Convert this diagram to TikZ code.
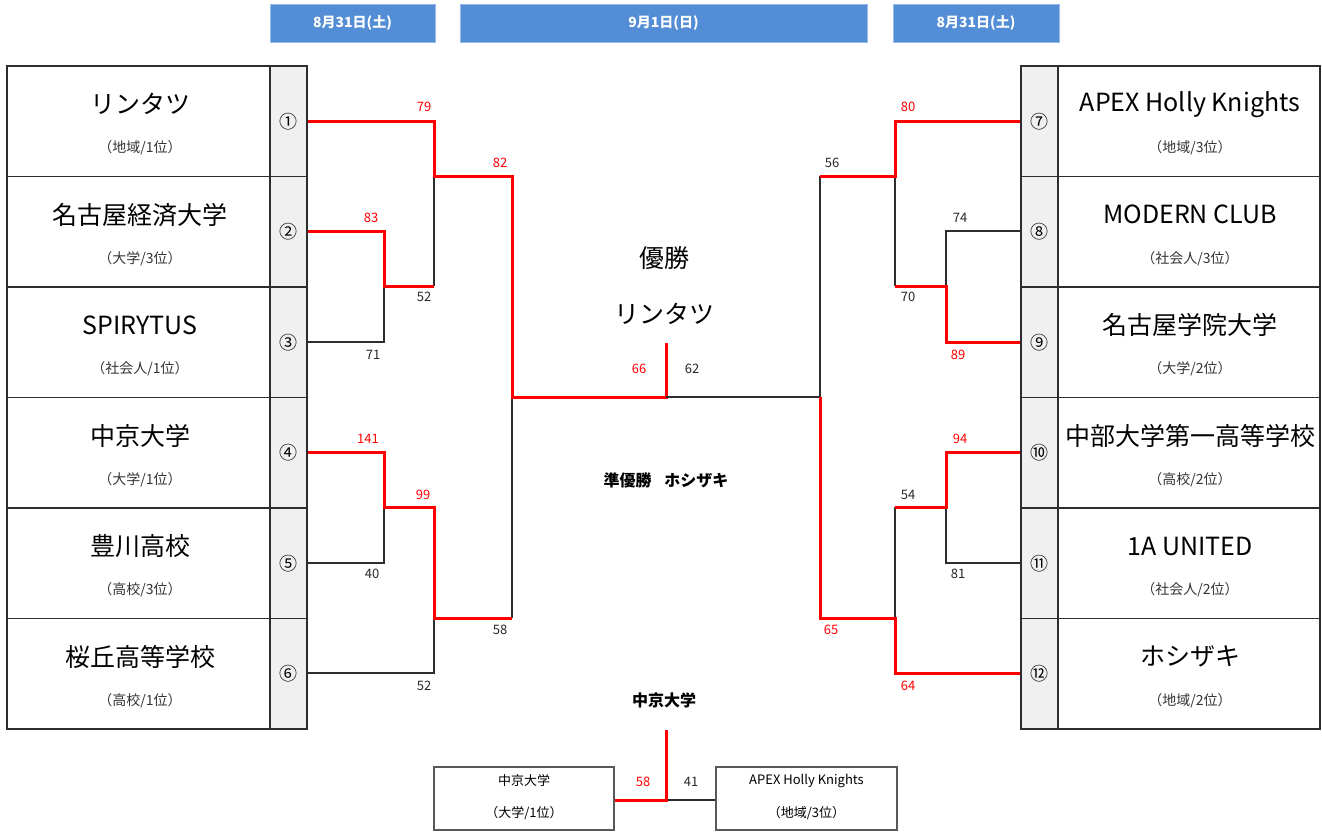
\documentclass[tikz,border=0pt]{standalone}
\usepackage{fontspec}
\setmainfont{Noto Sans CJK JP}
\usetikzlibrary{calc}
\definecolor{hdr}{RGB}{83,141,213}
\definecolor{numfill}{RGB}{240,240,240}
\definecolor{ln}{RGB}{45,45,45}
\definecolor{win}{RGB}{255,0,0}
\begin{document}
\begin{tikzpicture}[x=1pt,y=-1pt,
  hdrbox/.style={fill=hdr, draw=hdr!60!white, line width=0.8pt, text=white, font=\fontsize{14}{14}\selectfont\bfseries, inner sep=0pt, minimum height=38pt},
  namecell/.style={draw=ln, line width=1.8pt, minimum width=263pt, minimum height=110.5pt, inner sep=0pt},
  numcell/.style={draw=ln, fill=numfill, line width=1.8pt, minimum width=37pt, minimum height=110.5pt, inner sep=0pt, font=\fontsize{18}{18}\selectfont},
  bigname/.style={font=\fontsize{25}{25}\selectfont, inner sep=0pt},
  subname/.style={font=\fontsize{14}{14}\selectfont, text=black!80, inner sep=0pt},
  wline/.style={draw=win, line width=3pt},
  lline/.style={draw=ln, line width=1.8pt},
  rscore/.style={text=win, font=\fontsize{13}{13}\selectfont, inner sep=0pt},
  bscore/.style={text=black!85, font=\fontsize{13}{13}\selectfont, inner sep=0pt},
  smallbox/.style={draw=black!65, line width=1.5pt, minimum height=63pt, inner sep=0pt},
  smalltxt/.style={font=\fontsize{13}{13}\selectfont, inner sep=0pt},
  midtxt/.style={font=\fontsize{16}{16}\selectfont\bfseries, inner sep=0pt},
]
\useasboundingbox (0,0) rectangle (1322,833);

% headers
\node[hdrbox, minimum width=165pt] (h1) at (352.5,23) {8月31日(土)};
\node[hdrbox, minimum width=407pt] (h2) at (663.5,23) {9月1日(日)};
\node[hdrbox, minimum width=166pt] (h3) at (976,23) {8月31日(土)};

% left table
\foreach \i/\nm/\sb [evaluate=\i as \yc using 66+110.5*(\i-0.5)] in
  {1/リンタツ/{（地域/1位）}, 2/名古屋経済大学/{（大学/3位）}, 3/SPIRYTUS/{（社会人/1位）},
   4/中京大学/{（大学/1位）}, 5/豊川高校/{（高校/3位）}, 6/桜丘高等学校/{（高校/1位）}}{
  \node[namecell] (ln\i) at (138.5,\yc) {};
  \node[numcell] (l\i) at (288.5,\yc) {\ifcase\i\or ①\or ②\or ③\or ④\or ⑤\or ⑥\fi};
  \node[bigname] (lt\i) at (140,\yc-17) {\nm};
  \node[subname] (ls\i) at (140,\yc+27) {\sb};
}
% right table
\foreach \i/\nm/\sb [evaluate=\i as \yc using 66+110.5*(\i-6.5)] in
  {7/APEX Holly Knights/{（地域/3位）}, 8/MODERN CLUB/{（社会人/3位）}, 9/名古屋学院大学/{（大学/2位）},
   10/中部大学第一高等学校/{（高校/2位）}, 11/1A UNITED/{（社会人/2位）}, 12/ホシザキ/{（地域/2位）}}{
  \node[numcell] (r\i) at (1039.5,\yc) {\ifcase\i\or\or\or\or\or\or\or ⑦\or ⑧\or ⑨\or ⑩\or ⑪\or ⑫\fi};
  \node[namecell, minimum width=262pt] (rn\i) at (1189,\yc) {};
  \node[bigname] (rt\i) at (1190,\yc-17) {\nm};
  \node[subname] (rs\i) at (1190,\yc+27) {\sb};
}

% junction coordinates
\coordinate (fin) at (666,397);
\coordinate (fintop) at (666,343);
\coordinate (lsf) at (512,397);
\coordinate (rsf) at (820,397);

% ---- left bracket: black (losers) ----
\draw[lline] (434,286) -- (434,176);
\draw[lline] (l3.east |- 0,342) -- (384,342) -- (384,286);
\draw[lline] (l5.east |- 0,563) -- (384,563) -- (384,507);
\draw[lline] (l6.east |- 0,673) -- (434,673) -- (434,618);
\draw[lline] (512,618) -- (lsf);
% ---- left bracket: red (winners) ----
\draw[wline] (l1.east |- 0,121) -- (434,121) -- (434,176) -- (512,176) -- (lsf) -- (fin) -- (fintop);
\draw[wline] (l2.east |- 0,231) -- (384,231) -- (384,286) -- (434,286);
\draw[wline] (l4.east |- 0,452) -- (384,452) -- (384,507) -- (434,507) -- (434,618) -- (512,618);

% ---- right bracket: black ----
\draw[lline] (fin) -- (rsf);
\draw[lline] (820,176) -- (rsf);
\draw[lline] (895,286) -- (895,176);
\draw[lline] (r8.west |- 0,231) -- (946,231) -- (946,286);
\draw[lline] (r11.west |- 0,563) -- (946,563) -- (946,507);
\draw[lline] (895,507) -- (895,618);
% ---- right bracket: red ----
\draw[wline] (r7.west |- 0,121) -- (895,121) -- (895,176) -- (820,176);
\draw[wline] (r9.west |- 0,342) -- (946,342) -- (946,286) -- (895,286);
\draw[wline] (r10.west |- 0,452) -- (946,452) -- (946,507) -- (895,507);
\draw[wline] (rsf) -- (820,618) -- (895,618) -- (895,673) -- (r12.west |- 0,673);

% scores
\node[rscore] (s79) at (424,107) {79};
\node[rscore] (s82) at (500,163) {82};
\node[rscore] (s83) at (371,218) {83};
\node[bscore] (s52a) at (424,297) {52};
\node[bscore] (s71) at (373,355) {71};
\node[rscore] (s141) at (368,439) {141};
\node[rscore] (s99) at (423,495) {99};
\node[bscore] (s40) at (372,574) {40};
\node[bscore] (s58) at (500,630) {58};
\node[bscore] (s52b) at (424,686) {52};
\node[rscore] (s66) at (639,369) {66};
\node[bscore] (s62) at (692,369) {62};
\node[rscore] (s80) at (908,107) {80};
\node[bscore] (s56) at (832,163) {56};
\node[bscore] (s74) at (960,218) {74};
\node[bscore] (s70) at (908,297) {70};
\node[rscore] (s89) at (958,355) {89};
\node[rscore] (s94) at (960,439) {94};
\node[bscore] (s54) at (908,495) {54};
\node[bscore] (s81) at (958,574) {81};
\node[rscore] (s65) at (831,630) {65};
\node[rscore] (s64) at (908,686) {64};

% center texts
\node[bigname] (champ) at (664,258) {優勝};
\node[bigname] (champn) at (664,314) {リンタツ};
\node[midtxt] (runner) at (666,480) {準優勝\hspace{0.8em}ホシザキ};

% third place
\node[midtxt] (third) at (664,700) {中京大学};
\node[smallbox, minimum width=180pt] (bl) at (524,798.5) {};
\node[smallbox, minimum width=181pt] (br) at (806.5,798.5) {};
\node[smalltxt] at (524,781) {中京大学};
\node[smalltxt] at (524,813) {（大学/1位）};
\node[smalltxt] at (806.5,781) {APEX Holly Knights};
\node[smalltxt] at (806.5,813) {（地域/3位）};
\coordinate (tp) at (666,800);
\coordinate (tptop) at (666,730);
\draw[lline] (tp) -- (br.west |- tp);
\draw[wline] (bl.east |- tp) -- (tp) -- (tptop);
\node[rscore] (s58b) at (643,782) {58};
\node[bscore] (s41) at (691,782) {41};
\end{tikzpicture}
\end{document}
